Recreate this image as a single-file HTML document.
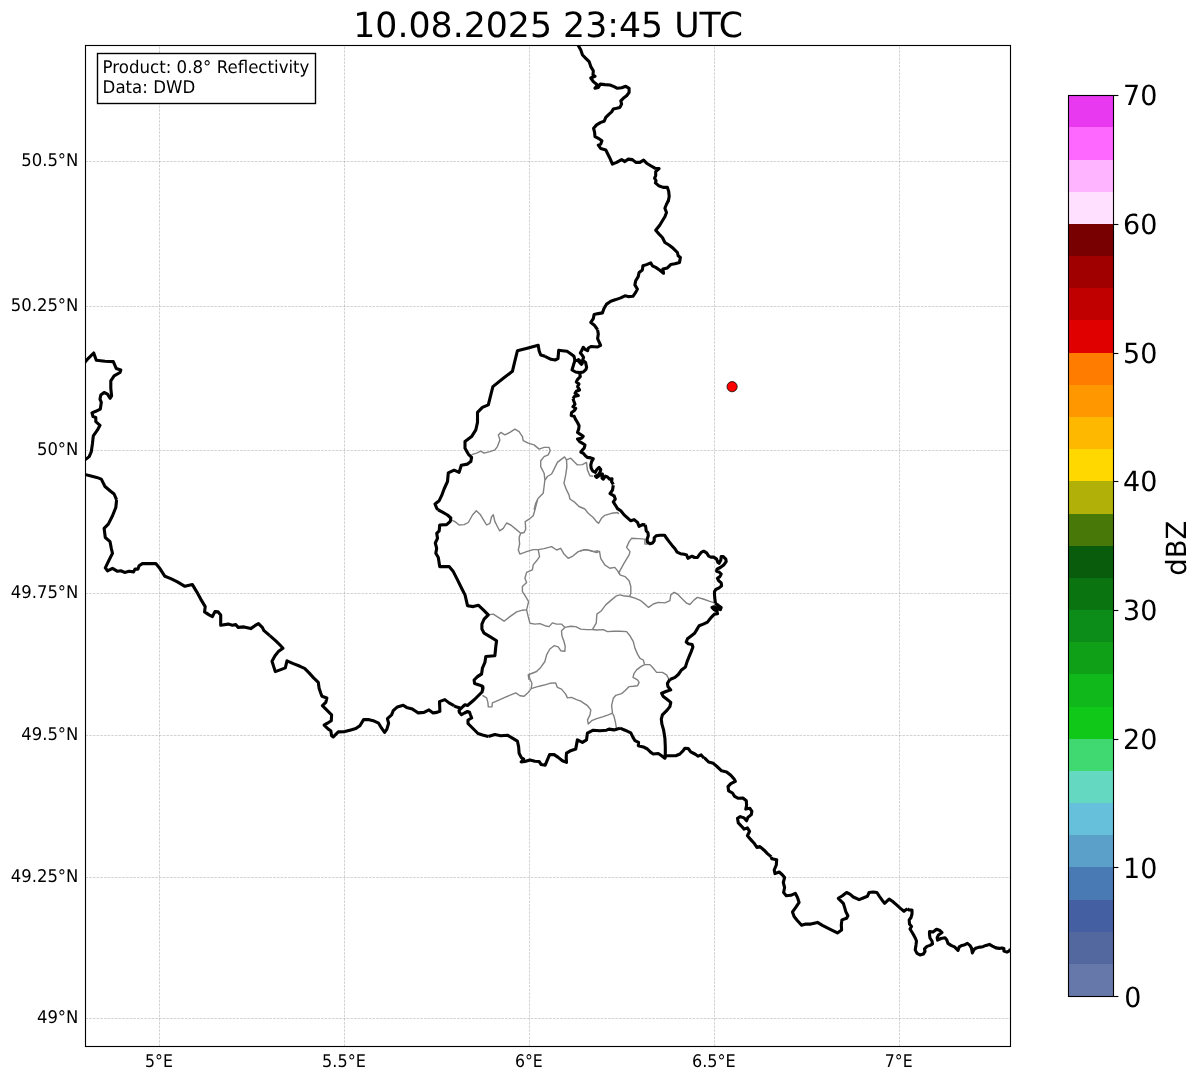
<!DOCTYPE html>
<html><head><meta charset="utf-8"><title>Radar</title>
<style>html,body{margin:0;padding:0;background:#fff}svg{display:block;will-change:transform}text{font-family:"DejaVu Sans","Liberation Sans",sans-serif;fill:#000;text-rendering:geometricPrecision}</style></head><body>
<svg width="1202" height="1081" viewBox="0 0 1202 1081">
<rect width="1202" height="1081" fill="#fff"/>
<defs><clipPath id="ax"><rect x="85.5" y="45.5" width="925.0" height="1001.0"/></clipPath></defs>
<text x="548.15" y="37.1" font-size="34.72" text-anchor="middle">10.08.2025 23:45 UTC</text>
<g stroke="#808080" stroke-opacity="0.5" stroke-width="0.69" stroke-dasharray="2.57 1.11" fill="none"><path d="M159.50 1046.5V45.5"/><path d="M344.50 1046.5V45.5"/><path d="M529.50 1046.5V45.5"/><path d="M714.50 1046.5V45.5"/><path d="M899.50 1046.5V45.5"/><path d="M85.5 1018.50H1010.5"/><path d="M85.5 877.50H1010.5"/><path d="M85.5 735.50H1010.5"/><path d="M85.5 593.50H1010.5"/><path d="M85.5 450.50H1010.5"/><path d="M85.5 306.50H1010.5"/><path d="M85.5 161.50H1010.5"/></g>
<g clip-path="url(#ax)" fill="none" stroke-linejoin="round" stroke-linecap="butt">
<path stroke="#808080" stroke-width="1.39" d="M471.6 454.6 476.6 453.2 480.8 451.2 484.1 453.2 489.9 451.6 494.9 449.9 497.4 446.6 499.9 439.9 498.3 434.9 500.8 432.4 504.9 434.9 509.9 432.4 514.9 429.1 519.1 431.6 522.4 436.6 523.2 440.7 528.2 443.2 534.1 444.9 539.1 449.1 544.1 447.4 549.1 447.4 550.2 450.7 548.2 454.9 544.1 456.6 540.7 460.7 540.7 466.6 544.1 473.2 544.9 479.9 544.1 486.5 543.2 493.2 538.2 498.2 535.7 503.2 534.1 510.0"/>
<path stroke="#808080" stroke-width="1.39" d="M545.2 479.9 547.4 476.5 551.6 474.0 554.1 469.1 557.4 462.4 561.5 459.1 564.5 456.9 566.5 459.9 570.7 458.2 574.0 461.6 577.4 464.9 582.4 464.6 586.5 462.4 587.4 469.9 589.9 475.7 593.2 476.2"/>
<path stroke="#808080" stroke-width="1.39" d="M566.5 459.9 566.9 466.6 565.7 474.9 564.0 483.2 566.5 489.9 569.0 494.9 569.9 499.0 574.9 502.4 579.0 506.5 584.9 509.0"/>
<path stroke="#808080" stroke-width="1.39" d="M450.8 519.7 455.0 521.6 459.1 525.0 464.1 524.6 468.3 522.5 472.5 515.0 476.3 510.8 480.0 514.2 484.1 520.8 486.6 525.0 489.9 523.3 491.6 516.7 493.3 514.7 494.9 521.6 497.9 527.5 499.6 530.8 503.3 528.3 506.6 523.0 510.8 525.0 515.8 529.1 520.7 533.3 524.1 532.5 525.7 529.1 525.2 521.6 529.1 519.2 533.2 515.8 534.9 510.0 536.6 503.3 537.4 500.0"/>
<path stroke="#808080" stroke-width="1.39" d="M520.7 533.3 519.1 537.5 519.6 544.1 518.3 550.0 519.9 554.1 526.6 551.6 533.2 549.6 538.2 549.6 544.1 548.6 551.6 546.6 556.6 550.0 560.7 548.3 564.0 554.1 568.2 558.3 573.2 555.8 578.2 551.6 584.9 549.6 591.5 550.8 596.5 552.5 599.5 551.3 600.7 558.3 604.8 564.9 609.8 568.3 614.8 567.4 618.2 571.6 620.0 574.1"/>
<path stroke="#808080" stroke-width="1.39" d="M538.2 549.6 539.6 556.6 536.6 560.8 533.2 564.9 532.4 569.9 526.6 572.4 524.9 578.3 526.6 582.4 522.4 586.6 522.4 591.6 525.7 596.6 528.6 601.6 527.4 606.6 526.6 609.9 528.2 616.6 529.9 623.2 534.9 624.1 539.9 623.6 544.9 625.7 549.1 626.6 552.4 622.9 556.6 624.1 561.5 624.1 564.9 627.4 570.7 626.2 575.7 626.6 580.7 629.1 586.5 629.6 592.4 629.6"/>
<path stroke="#808080" stroke-width="1.39" d="M488.3 614.9 493.3 614.1 498.3 617.4 504.1 621.2 509.9 616.6 516.6 611.9 522.4 610.2 526.6 609.9"/>
<path stroke="#808080" stroke-width="1.39" d="M564.9 627.4 561.5 630.7 561.9 635.7 564.0 641.5 565.2 646.5 564.9 651.2 560.7 650.7 558.2 646.9 554.1 645.7 549.9 649.0 546.6 654.9 544.9 661.5 540.7 667.4 536.6 671.5 531.6 673.5 528.2 674.9 529.1 680.0"/>
<path stroke="#808080" stroke-width="1.39" d="M592.4 629.6 596.2 623.2 596.9 614.1 601.5 610.7 605.7 604.9 611.5 599.9 616.5 595.8 620.0 594.9"/>
<path stroke="#808080" stroke-width="1.39" d="M584.9 509.0 588.2 513.3 593.2 517.5 596.5 521.6 598.5 523.3 601.5 518.3 604.8 515.3 611.5 513.3 618.2 512.5"/>
<path stroke="#808080" stroke-width="1.39" d="M617.5 512.4 618.6 514.1"/>
<path stroke="#808080" stroke-width="1.39" d="M580.0 550.7 586.7 549.6 593.3 551.6 598.3 550.7"/>
<path stroke="#808080" stroke-width="1.39" d="M618.6 573.2 624.1 563.2 629.1 554.9 630.0 551.6 626.6 547.4 629.1 541.6 631.6 538.3 638.3 538.6 644.9 539.1 644.9 544.1 648.3 544.1"/>
<path stroke="#808080" stroke-width="1.39" d="M618.1 571.6 620.0 574.9 625.0 576.6 629.1 580.7 630.8 586.5 630.8 593.2 629.6 596.5"/>
<path stroke="#808080" stroke-width="1.39" d="M629.6 596.5 623.3 595.7 620.0 594.9"/>
<path stroke="#808080" stroke-width="1.39" d="M629.6 596.5 635.0 598.2 640.8 600.7 645.8 604.9 648.6 607.4 653.3 604.0 658.3 602.4 664.9 602.9 669.9 600.7 670.8 594.9 674.1 592.4 677.4 594.0 681.6 598.2 686.6 603.2 689.9 604.5 694.1 599.9 697.4 597.4 703.2 599.0 709.1 601.2 714.6 602.9"/>
<path stroke="#808080" stroke-width="1.39" d="M592.3 629.5 596.7 630.0 603.3 629.6 607.5 631.6 613.3 631.3 620.0 631.3 626.6 631.6 630.0 635.8 633.3 641.6 635.0 648.3 637.5 654.1 640.0 658.3 643.3 660.0 644.6 664.6"/>
<path stroke="#808080" stroke-width="1.39" d="M644.6 664.6 649.9 664.6 653.3 668.3 656.6 672.4 662.4 672.4 666.6 674.9 669.1 679.6"/>
<path stroke="#808080" stroke-width="1.39" d="M644.6 664.6 640.8 666.6 636.6 669.9 634.1 673.3 633.0 677.4 637.5 679.9 639.1 682.4 637.5 685.8 633.3 686.3 629.1 686.6 625.0 690.8 621.6 693.6 615.8 695.3 613.3 698.3 611.6 705.7 612.5 713.2 614.1 716.6 615.3 721.6 616.6 729.1"/>
<path stroke="#808080" stroke-width="1.39" d="M612.5 713.2 608.3 714.9 603.3 716.6 596.7 718.6 591.7 720.7 588.3 724.1 587.5 719.9 590.0 714.9 590.8 709.9 587.5 705.7 583.3 702.9 580.0 700.7"/>
<path stroke="#808080" stroke-width="1.39" d="M482.4 695.3 486.6 697.9 487.9 702.4 488.3 706.9 491.9 706.9 492.4 702.9 498.3 700.3 504.9 697.4 510.8 694.9 515.8 692.9 519.9 695.8 524.1 696.3 528.2 692.4 531.2 688.6 531.9 683.3 529.6 678.3 529.1 673.6"/>
<path stroke="#808080" stroke-width="1.39" d="M531.2 688.6 536.6 686.9 543.2 685.3 549.9 683.3 555.7 682.9 557.4 687.4 561.5 689.1 565.7 694.1 567.4 697.9 571.5 697.4 576.5 699.6 580.0 700.8"/>
<path stroke="#000" stroke-width="3.1" d="M578.0 45.0 580.8 50.0 582.5 55.0 585.8 58.3 589.1 61.6 590.8 66.6 593.3 70.8 593.0 75.0 595.0 76.3 590.8 78.0 593.3 81.6 597.5 85.0 595.0 88.3 598.3 87.5 600.3 84.1 604.9 84.6 609.9 85.0 614.1 86.6 617.4 88.3 621.6 87.8 625.8 86.3 629.1 88.3 629.1 92.5 626.6 95.8 623.3 98.3 620.8 100.8 621.6 104.1 619.9 107.4 616.6 108.3 613.3 109.1 611.6 111.9 609.1 114.1 605.8 117.4 604.1 121.3 600.8 122.4 596.6 124.9 593.6 128.3 594.6 132.4 595.0 136.6 598.3 138.3 601.9 140.7 600.8 144.1 598.3 145.2 600.8 148.6 605.8 149.9 607.4 153.2 609.9 158.2 612.4 164.1 616.6 162.4 621.6 159.6 624.9 161.6 628.3 159.1 632.4 159.6 635.8 162.4 639.9 162.4 643.6 160.2 646.6 163.2 650.7 165.7 654.9 168.2 659.1 168.6 655.7 171.6 655.7 175.7 654.6 178.2 656.1 180.7 655.4 182.9 658.6 185.7 663.2 187.4 667.4 187.4 668.7 191.5 669.2 196.5 668.2 201.5"/>
<path stroke="#000" stroke-width="3.1" d="M668.7 200.0 666.5 204.2 664.9 208.3 666.5 212.5 664.9 216.7 662.4 220.8 659.9 225.0 655.7 230.3 659.1 234.1 662.4 237.5 664.9 242.5 669.0 245.0 673.2 248.3 677.4 252.5 678.2 255.8 680.4 257.5 679.5 262.4 674.9 263.8 670.7 264.6 667.4 267.9 662.9 269.1 663.5 273.3 659.9 270.3 655.7 267.4 652.4 265.8 650.7 262.9 646.6 264.6 642.9 265.8 642.4 269.9 639.1 272.4 638.2 276.6 635.7 280.8 634.9 284.9 637.4 289.1 635.7 292.4 632.9 296.3 628.2 296.6 624.9 295.8 620.7 297.9 615.8 299.6 610.8 301.2 606.6 304.1 604.1 308.2 602.4 312.9 598.3 313.6 594.1 314.6 593.3 318.6 590.8 322.4 594.1 324.9 596.6 328.2 597.6 329.9"/>
<path stroke="#000" stroke-width="3.1" d="M597.6 330.0 598.3 334.0 597.6 338.7 599.3 342.3 600.6 345.3 597.6 347.0 594.3 346.7 591.0 346.5 588.3 348.0 587.6 350.7 585.0 349.3 583.3 347.3 581.6 350.7 580.3 353.0 582.3 355.3 583.6 357.3 582.6 360.3 585.6 362.6 586.6 367.3 586.0 369.3 583.3 372.0 579.6 372.6 575.6 372.0 572.0 370.0 573.6 364.6 575.0 360.6"/>
<path stroke="#000" stroke-width="3.1" d="M545.0 356.3 551.0 359.3 555.0 360.0 558.0 358.6 558.7 350.3 562.3 350.7 567.0 351.3 571.0 354.0 574.0 356.3 575.0 360.6 577.6 360.3 581.3 364.3 582.3 363.3 578.6 359.6 577.6 360.3"/>
<path stroke="#000" stroke-width="3.1" d="M579.6 372.6 580.3 376.6 577.6 379.3 576.3 382.0 579.0 384.0 577.6 386.6 579.6 390.0 576.3 391.3 575.0 393.3 578.3 395.6 574.3 396.6 573.0 398.6"/>
<path stroke="#000" stroke-width="3.1" d="M545.1 356.3 540.7 355.0 539.1 350.8 538.2 345.3 528.2 348.0 517.4 350.8 514.9 360.8 512.4 371.3 503.3 378.3 492.9 386.6 490.8 394.9 488.3 404.9 482.4 407.4 477.5 412.4 477.5 422.4 475.8 429.9 471.6 436.6 465.0 441.6 465.0 448.2 468.3 454.1 471.6 457.4 470.8 461.6 467.5 464.1 461.3 465.2 459.1 472.4 454.1 470.2 448.3 472.9 447.5 481.5 444.1 489.0 441.6 495.7 439.2 500.7 435.0 504.0 436.7 508.2 438.3 510.0"/>
<path stroke="#000" stroke-width="3.1" d="M573.0 398.6 573.7 400.8 575.0 404.2 572.9 406.7 575.8 408.3 574.1 410.8 571.6 412.5 571.2 415.4 574.1 416.2 575.4 419.1 577.5 422.5 579.1 425.8 578.7 429.1 577.5 432.5 580.0 434.1 583.3 436.2 581.6 438.3 577.5 439.1 579.6 441.6 582.5 443.3 585.0 445.0 584.1 448.3 582.1 450.4 580.8 452.0 583.3 453.3 585.4 455.8 587.5 457.4 590.8 457.9 593.3 458.7 591.6 461.6 590.8 464.9 591.2 468.3 592.9 471.2 595.4 472.4 596.6 469.9 599.1 467.4 600.8 469.5 600.0 472.4 598.3 474.9 595.4 476.2 596.6 477.4 600.0 474.9 602.5 474.1 602.0 478.3 603.3 479.1 605.4 476.2 607.5 477.0 609.5 479.1 612.0 478.7 611.6 481.6 613.3 484.5"/>
<path stroke="#000" stroke-width="3.1" d="M438.3 510.0 441.6 511.7 447.5 515.0 450.8 518.0 450.3 521.3 446.6 524.6 439.7 525.0 439.2 530.8 436.7 533.3 437.5 538.3 435.3 543.0 436.7 548.3 435.8 553.3 438.3 557.5 439.7 566.6 449.1 566.6 453.3 571.6 457.5 579.9 461.6 588.3 465.0 594.9 466.6 601.6 467.5 605.7 473.3 606.6 478.3 605.2 483.3 609.9 488.3 614.9 484.1 619.1 481.9 624.1 481.9 629.1 484.1 633.2 489.9 636.6 496.6 640.7 495.8 646.5 494.9 655.7 485.8 656.5 484.9 662.4 482.4 668.2 481.6 674.0 477.5 676.5"/>
<path stroke="#000" stroke-width="3.1" d="M613.3 485.3 612.5 490.0 610.0 493.6 614.1 495.8 615.3 499.1 613.3 501.9 615.8 505.8 617.5 508.6 620.8 510.8 624.1 514.9 627.5 517.9 630.8 520.8 634.1 519.6 637.5 522.4 639.1 526.3 642.4 524.6 645.3 524.9"/>
<path stroke="#000" stroke-width="3.1" d="M645.2 524.9 645.8 527.5 646.2 530.8 647.9 532.5 648.3 535.8 647.1 539.2 647.5 542.1 650.0 543.7 652.5 542.9 654.2 540.8 654.2 537.9 656.2 535.8 660.0 535.2 664.6 535.2 666.6 538.3 669.1 541.6 672.1 545.4 675.0 548.7 677.1 552.1 680.4 553.7 684.1 554.3 686.6 555.0 687.9 558.3 690.0 557.1 692.0 556.2 694.5 557.5 697.5 557.5 699.1 555.0 701.6 552.1 703.7 551.2 706.6 552.9 708.7 556.2 710.8 557.1 713.7 557.1 716.6 559.1 717.9 562.5 719.1 563.3 720.8 560.0 721.2 556.6 723.3 556.6 725.8 559.1 726.2 561.6 723.7 565.0 720.3 567.5 717.0 569.1 716.6 571.2 719.1 572.0 721.2 574.1 719.9 576.6 717.4 578.3 718.7 580.8 721.2 582.9 721.6 585.8 719.1 587.9 715.8 589.5 714.5 591.6 714.5 594.9 714.9 599.1 715.4 603.3"/>
<path stroke="#000" stroke-width="3.1" d="M715.2 603.3 718.3 605.4 721.2 607.5 720.4 609.6 717.5 608.7 714.1 606.7 712.0 607.5 714.1 609.6 717.0 611.2 717.5 613.7 714.5 614.1 712.0 616.6 709.5 619.6 707.5 622.1 703.3 624.1 699.1 625.8 697.1 629.1 694.6 633.3 690.8 636.2 687.5 638.7 686.2 642.0 688.3 643.7 692.1 644.5 692.9 647.0 691.2 651.6 689.1 656.6 687.1 661.6 685.4 667.0 681.2 670.3 678.3 674.5 675.0 677.4 670.0 679.5"/>
<path stroke="#000" stroke-width="3.1" d="M669.9 679.4 667.4 683.3 667.9 686.6 670.8 689.9 666.6 691.3 661.6 693.3 663.3 696.6 666.6 699.1 670.8 702.4 669.9 706.6 666.6 710.7 662.4 714.9 661.3 719.1 661.9 724.1 663.6 729.9 664.9 738.2 665.3 746.5 665.3 753.2 664.9 758.2"/>
<path stroke="#000" stroke-width="3.1" d="M620.0 728.1 625.0 730.2 630.8 732.9 633.0 737.4 635.0 740.7 638.6 742.4 638.3 745.7 643.3 746.9 647.4 749.0 650.8 752.4 653.3 754.0 658.3 753.5 661.6 755.7 664.9 758.2 665.3 755.7 670.8 755.7 675.8 755.7 679.9 754.0 683.2 750.7 684.9 748.2 688.2 748.5 690.7 751.9 694.9 754.0 698.2 756.2 701.2 754.9 704.1 758.2"/>
<path stroke="#000" stroke-width="3.1" d="M481.6 674.0 477.5 676.6 474.1 680.0 474.6 683.6 479.1 684.9 482.4 686.3 482.6 690.8"/>
<path stroke="#000" stroke-width="3.1" d="M482.7 686.0 483.0 688.0 482.0 692.0 478.5 695.5 474.5 699.5 471.0 702.5 467.5 705.5 465.0 704.7 463.0 706.5 461.0 708.5 459.0 710.5 459.5 712.5 461.5 714.7 464.5 713.0 467.5 711.5 469.5 712.2 470.5 715.0 471.7 718.0 468.0 720.0 468.0 723.5 471.0 726.5 474.5 730.0 478.0 733.5 482.5 735.0 488.3 736.6"/>
<path stroke="#000" stroke-width="3.1" d="M454.0 705.9 456.0 706.7 460.0 708.0 461.0 708.5"/>
<path stroke="#000" stroke-width="3.1" d="M488.3 736.6 494.9 734.6 500.8 735.7 507.4 735.2 512.4 738.2 517.4 741.2 518.6 746.6 519.1 753.2 521.2 757.4 523.6 759.1 521.2 761.9 524.9 761.5 529.9 759.9 534.9 761.2 539.1 761.5 541.2 764.5 545.2 765.2 547.4 759.9 549.6 754.6 554.1 754.6 558.2 757.4 562.4 760.7 566.5 762.4 566.2 757.4 566.5 753.2 570.7 750.7 575.7 749.1 577.4 739.9 582.4 742.4 586.5 739.9 587.4 733.2 593.2 730.2 599.9 730.7 606.5 730.2 609.0 729.1 614.0 729.9 620.0 728.2"/>
<path stroke="#000" stroke-width="3.1" d="M83.3 364.1 88.3 358.3 93.7 353.0 96.3 360.3 105.0 361.3 113.3 361.6 116.3 368.6 120.8 370.0 120.0 372.5 114.1 375.8 110.8 380.8 110.8 388.3 111.6 395.8 110.0 398.3 107.5 394.1 104.1 392.5 100.8 395.0 100.0 399.1 101.3 402.4 100.3 409.1 95.8 411.3 92.0 412.9 93.0 416.6 95.8 417.4 95.8 421.6 100.0 425.3 97.5 429.9 93.3 435.8 92.5 443.2 91.3 451.6 89.2 456.6 85.0 459.9 83.3 460.7"/>
<path stroke="#000" stroke-width="3.1" d="M83.3 474.1 90.0 475.7 96.7 477.4 101.3 479.1 105.0 486.5 110.0 490.7 114.1 494.0 116.6 499.9"/>
<path stroke="#000" stroke-width="3.1" d="M116.6 500.0 115.8 507.5 112.5 515.8 108.3 524.1 104.1 528.3 105.3 537.5 110.0 541.6 111.3 548.3 112.5 553.3 109.1 560.0 105.3 567.9 107.5 570.8 112.5 568.3 117.5 571.3 120.8 570.8 124.6 572.4 129.1 571.3 133.6 571.9 135.0 569.1 138.0 569.1 139.1 565.8 142.4 563.6 149.1 563.6 155.8 563.6 159.9 568.6 164.9 576.3 170.8 578.6 177.4 581.9 184.9 586.3 192.4 584.6 196.6 591.6 200.7 599.1 205.2 606.6 204.6 611.9 209.1 614.9 212.4 616.6 214.9 611.6 218.2 611.9 220.7 614.9 220.7 625.2 228.2 624.1 232.4 625.2 235.7 624.6 238.2 627.4 244.0 626.9 250.7 628.6 254.9 625.7 258.5 623.6 262.3 627.4 264.0 630.7 269.8 635.7"/>
<path stroke="#000" stroke-width="3.1" d="M269.8 635.6 275.8 640.8 280.0 645.0 283.0 648.3 278.3 651.6 275.0 655.8 272.0 661.3 273.7 666.6 275.3 671.6 280.8 669.6 285.3 667.9 287.0 660.8 293.3 663.6 300.0 666.3 304.6 668.3 309.1 672.9 313.6 677.9 318.3 682.4 319.1 688.3 320.8 693.3 321.9 696.3 326.9 697.9 325.8 702.4 322.4 705.7 326.6 709.9 331.6 714.9 331.3 720.7 327.4 723.2 324.1 725.2 328.3 729.1 330.8 730.7 331.6 735.7 333.3 736.9 338.3 731.9 344.9 731.6 350.8 729.9 355.8 728.6 359.9 725.7 363.6 719.6 368.2 719.6 373.2 720.7 378.6 723.2 381.6 728.2 384.6 732.4 386.9 729.1 388.6 723.2 387.4 718.6 391.6 714.9 393.2 710.7 397.4 706.9 403.2 705.2 406.5 707.4 412.4 709.1 415.7 711.2 418.2 712.9 424.0 712.4 429.0 709.9 433.2 712.9 436.9 712.4 439.9 711.2 439.5 701.6 444.8 699.6 449.0 702.9 454.0 705.7"/>
<path stroke="#000" stroke-width="3.1" d="M704.0 758.2 705.0 758.3 708.6 762.0 713.3 763.3 717.5 767.0 721.6 770.8 726.6 772.0 730.8 775.3 734.1 779.1 735.3 781.3 730.8 783.6 728.0 786.6 728.6 790.8 732.5 793.0 734.6 796.3 738.3 798.3 742.9 798.0 746.3 800.8 746.6 805.3 745.8 809.1 749.9 808.3 751.9 811.3 751.3 814.6 747.9 817.4 746.6 820.8 744.1 817.9 740.3 816.6 737.5 818.3 738.3 822.9 741.6 826.3 744.1 829.1 747.4 827.9 749.6 831.3 747.4 835.8 750.8 839.6 754.1 843.2 756.9 847.4 759.9 846.6 764.1 850.2 767.4 853.6 771.3 856.9"/>
<path stroke="#000" stroke-width="3.1" d="M771.3 857.0 771.7 858.7 776.7 859.7 776.3 865.0 774.2 870.0 775.0 873.6 779.2 872.0 782.5 875.0 784.6 877.5 783.3 882.5 784.6 887.5 783.6 892.5 786.3 895.8 790.8 895.3 795.3 893.3 797.5 897.5 799.1 902.4 795.8 907.4 792.5 911.9 794.1 916.6 797.5 920.8 801.6 925.3 805.8 924.1 810.8 924.1 817.5 922.4 822.4 925.3 828.3 928.3 833.3 930.8 837.4 932.9 841.6 929.9 841.3 924.9 841.9 919.9 846.6 918.3 847.9 915.8 845.8 911.6 844.6 907.4 843.3 903.3 840.8 900.8 838.3 898.3 842.4 895.8 846.6 892.5 849.9 894.1 853.3 897.0 859.1 899.6 863.2 898.0 867.4 896.3 869.1 892.5 873.2 892.0 876.9 892.5 879.6 896.6 883.2 901.6 884.6 903.3 889.1 899.1 892.4 901.3 896.6 904.9 900.7 908.6 904.0 911.3 907.4 908.6"/>
<path stroke="#000" stroke-width="3.1" d="M907.4 908.6 909.0 910.0 912.0 910.0 912.0 914.0 911.0 917.5 909.2 920.0 909.5 924.0 911.5 926.5 910.0 929.0 912.5 933.0 915.0 937.5 916.5 941.0 916.0 944.9 915.2 949.9 917.0 953.4 920.0 954.9 923.5 953.9 925.0 951.4 924.5 948.9 927.0 946.4 930.0 945.4 932.5 943.9 932.0 941.0 930.0 938.0 929.5 934.5 929.5 931.5 933.0 932.0 936.5 929.2 940.0 930.5 942.0 932.5 938.5 935.0 937.2 937.5 937.5 940.2 941.0 938.5 945.0 937.8 946.8 940.0 948.0 943.4 951.0 945.4 954.5 946.9 958.0 950.4 959.2 946.9 962.0 945.4 964.9 944.7 967.4 943.4 969.9 945.4 971.4 947.9 972.4 952.9 974.1 949.4 976.4 947.9 979.9 947.1 982.9 946.7 985.9 945.4 989.4 944.4 992.4 946.1 995.9 947.9 999.4 948.4 1001.9 947.9 1003.9 948.4 1003.9 951.1 1006.9 952.1 1009.4 950.9 1010.4 948.9"/>
</g>
<circle cx="732.1" cy="386.7" r="5.1" fill="#ff0000" stroke="#000" stroke-width="0.8"/>
<rect x="85.5" y="45.5" width="925.0" height="1001.0" fill="none" stroke="#000" stroke-width="1.11"/>
<rect x="97.5" y="53.5" width="218" height="50" fill="#fff" stroke="#000" stroke-width="1.39"/>
<text transform="translate(102.6,72.7) scale(0.998,1.045)" font-size="16.67">Product: 0.8° Reflectivity</text>
<text transform="translate(102.6,92.5) scale(0.998,1.045)" font-size="16.67">Data: DWD</text>
<text transform="translate(145.1,1066.8) scale(1,1.045)" font-size="16.67" textLength="27.8" lengthAdjust="spacingAndGlyphs">5°E</text>
<text transform="translate(322.1,1066.8) scale(1,1.045)" font-size="16.67" textLength="43.7" lengthAdjust="spacingAndGlyphs">5.5°E</text>
<text transform="translate(515.0,1066.8) scale(1,1.045)" font-size="16.67" textLength="27.8" lengthAdjust="spacingAndGlyphs">6°E</text>
<text transform="translate(692.0,1066.8) scale(1,1.045)" font-size="16.67" textLength="43.7" lengthAdjust="spacingAndGlyphs">6.5°E</text>
<text transform="translate(884.8,1066.8) scale(1,1.045)" font-size="16.67" textLength="27.8" lengthAdjust="spacingAndGlyphs">7°E</text>
<text transform="translate(78.4,1022.7) scale(0.988,1.045)" font-size="16.67" text-anchor="end">49°N</text>
<text transform="translate(78.4,881.8) scale(0.988,1.045)" font-size="16.67" text-anchor="end">49.25°N</text>
<text transform="translate(78.4,740.2) scale(0.988,1.045)" font-size="16.67" text-anchor="end">49.5°N</text>
<text transform="translate(78.4,597.8) scale(0.988,1.045)" font-size="16.67" text-anchor="end">49.75°N</text>
<text transform="translate(78.4,454.8) scale(0.988,1.045)" font-size="16.67" text-anchor="end">50°N</text>
<text transform="translate(78.4,310.9) scale(0.988,1.045)" font-size="16.67" text-anchor="end">50.25°N</text>
<text transform="translate(78.4,166.3) scale(0.988,1.045)" font-size="16.67" text-anchor="end">50.5°N</text>
<g shape-rendering="crispEdges">
<rect x="1068.5" y="963.42" width="45.0" height="32.78" fill="#6677aa"/>
<rect x="1068.5" y="931.24" width="45.0" height="32.78" fill="#5468a0"/>
<rect x="1068.5" y="899.06" width="45.0" height="32.78" fill="#4460a2"/>
<rect x="1068.5" y="866.89" width="45.0" height="32.78" fill="#4a7ab4"/>
<rect x="1068.5" y="834.71" width="45.0" height="32.78" fill="#5aa0c8"/>
<rect x="1068.5" y="802.53" width="45.0" height="32.78" fill="#66c0dc"/>
<rect x="1068.5" y="770.35" width="45.0" height="32.78" fill="#64d8c0"/>
<rect x="1068.5" y="738.17" width="45.0" height="32.78" fill="#40d870"/>
<rect x="1068.5" y="705.99" width="45.0" height="32.78" fill="#10c818"/>
<rect x="1068.5" y="673.81" width="45.0" height="32.78" fill="#10b81c"/>
<rect x="1068.5" y="641.64" width="45.0" height="32.78" fill="#10a018"/>
<rect x="1068.5" y="609.46" width="45.0" height="32.78" fill="#0c8c18"/>
<rect x="1068.5" y="577.28" width="45.0" height="32.78" fill="#0a7410"/>
<rect x="1068.5" y="545.10" width="45.0" height="32.78" fill="#085c0c"/>
<rect x="1068.5" y="512.92" width="45.0" height="32.78" fill="#487808"/>
<rect x="1068.5" y="480.74" width="45.0" height="32.78" fill="#b0b008"/>
<rect x="1068.5" y="448.56" width="45.0" height="32.78" fill="#ffd800"/>
<rect x="1068.5" y="416.39" width="45.0" height="32.78" fill="#ffb800"/>
<rect x="1068.5" y="384.21" width="45.0" height="32.78" fill="#ff9800"/>
<rect x="1068.5" y="352.03" width="45.0" height="32.78" fill="#ff7c00"/>
<rect x="1068.5" y="319.85" width="45.0" height="32.78" fill="#e00000"/>
<rect x="1068.5" y="287.67" width="45.0" height="32.78" fill="#c00000"/>
<rect x="1068.5" y="255.49" width="45.0" height="32.78" fill="#a00000"/>
<rect x="1068.5" y="223.31" width="45.0" height="32.78" fill="#780000"/>
<rect x="1068.5" y="191.14" width="45.0" height="32.78" fill="#ffe0ff"/>
<rect x="1068.5" y="158.96" width="45.0" height="32.78" fill="#ffb4ff"/>
<rect x="1068.5" y="126.78" width="45.0" height="32.78" fill="#ff68ff"/>
<rect x="1068.5" y="95.20" width="45.0" height="32.18" fill="#e838f0"/>
</g>
<rect x="1068.5" y="95.5" width="45.0" height="901.0" fill="none" stroke="#000" stroke-width="1.11"/>
<path d="M1113.5 996.50h4.9" stroke="#000" stroke-width="1.11"/>
<text x="1124.2" y="1006.7" font-size="27.78" textLength="17.1" lengthAdjust="spacingAndGlyphs">0</text>
<path d="M1113.5 867.50h4.9" stroke="#000" stroke-width="1.11"/>
<text x="1123.0" y="877.5" font-size="27.78" textLength="34.3" lengthAdjust="spacingAndGlyphs">10</text>
<path d="M1113.5 739.50h4.9" stroke="#000" stroke-width="1.11"/>
<text x="1123.0" y="748.8" font-size="27.78" textLength="34.3" lengthAdjust="spacingAndGlyphs">20</text>
<path d="M1113.5 610.50h4.9" stroke="#000" stroke-width="1.11"/>
<text x="1123.0" y="620.1" font-size="27.78" textLength="34.3" lengthAdjust="spacingAndGlyphs">30</text>
<path d="M1113.5 481.50h4.9" stroke="#000" stroke-width="1.11"/>
<text x="1123.0" y="491.3" font-size="27.78" textLength="34.3" lengthAdjust="spacingAndGlyphs">40</text>
<path d="M1113.5 353.50h4.9" stroke="#000" stroke-width="1.11"/>
<text x="1123.0" y="362.6" font-size="27.78" textLength="34.3" lengthAdjust="spacingAndGlyphs">50</text>
<path d="M1113.5 224.50h4.9" stroke="#000" stroke-width="1.11"/>
<text x="1123.0" y="233.9" font-size="27.78" textLength="34.3" lengthAdjust="spacingAndGlyphs">60</text>
<path d="M1113.5 95.50h4.9" stroke="#000" stroke-width="1.11"/>
<text x="1123.0" y="105.2" font-size="27.78" textLength="34.3" lengthAdjust="spacingAndGlyphs">70</text>
<text transform="translate(1186.3,548.3) rotate(-90)" font-size="27.78" text-anchor="middle" textLength="54.9" lengthAdjust="spacingAndGlyphs">dBZ</text>
</svg></body></html>
